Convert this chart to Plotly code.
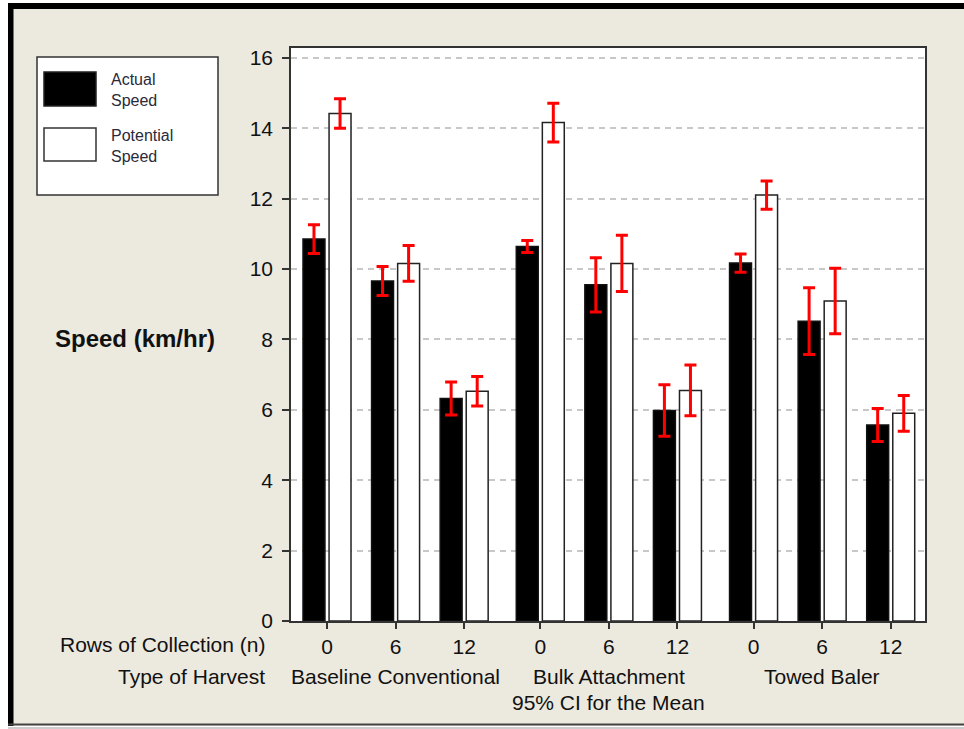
import plotly.graph_objects as go

# ---- data ----
harvest_types = ["Baseline Conventional", "Bulk Attachment", "Towed Baler"]
rows_collection = ["0", "6", "12"]
actual_speed = [10.85, 9.66, 6.32, 10.64, 9.55, 5.98, 10.17, 8.52, 5.57]
actual_ci = [0.41, 0.41, 0.47, 0.17, 0.77, 0.73, 0.26, 0.95, 0.47]
potential_speed = [14.42, 10.16, 6.53, 14.16, 10.16, 6.55, 12.10, 9.09, 5.90]
potential_ci = [0.42, 0.51, 0.42, 0.55, 0.80, 0.72, 0.40, 0.93, 0.51]
y_ticks = [0, 2, 4, 6, 8, 10, 12, 14, 16]

W, H = 964, 729
L, R, T, B = 291, 925, 48, 621  # plot area in pixels

def px(x):
    return (x - L) / (R - L)

def py(y):
    return (B - y) / (B - T)

# x positions: index within group plus a small gap between harvest groups
ticktext = []
xpos = []
for g, _ in enumerate(harvest_types):
    for r, lab in enumerate(rows_collection):
        xpos.append(g * len(rows_collection) + r + 0.11 * g)
        ticktext.append(lab)

BEIGE = "#ECE9DF"
TICKFONT = dict(family="Liberation Sans, Arial, sans-serif", size=21, color="#111111")

fig = go.Figure()
fig.add_trace(go.Bar(
    x=xpos, y=actual_speed, name="Actual Speed",
    offset=-0.35, width=0.32,
    marker=dict(color="black", line=dict(color="#111111", width=1.5)),
    error_y=dict(type="data", array=actual_ci, color="#ff0000", thickness=3, width=6),
))
fig.add_trace(go.Bar(
    x=xpos, y=potential_speed, name="Potential Speed",
    offset=0.03, width=0.32,
    marker=dict(color="white", line=dict(color="#222222", width=1.5)),
    error_y=dict(type="data", array=potential_ci, color="#ff0000", thickness=3, width=6),
))

shapes = []
# white outer margin strips and black frame
shapes.append(dict(type="rect", xref="paper", yref="paper", x0=px(-5), x1=px(8), y0=py(-5), y1=py(H + 5),
                   fillcolor="white", line=dict(width=0), layer="below"))
shapes.append(dict(type="rect", xref="paper", yref="paper", x0=px(-5), x1=px(W + 5), y0=py(-5), y1=py(3),
                   fillcolor="white", line=dict(width=0), layer="below"))
shapes.append(dict(type="rect", xref="paper", yref="paper", x0=px(-5), x1=px(W + 5), y0=py(726), y1=py(H + 5),
                   fillcolor="white", line=dict(width=0), layer="below"))
shapes.append(dict(type="rect", xref="paper", yref="paper", x0=px(8), x1=px(13.5), y0=py(3), y1=py(726),
                   fillcolor="black", line=dict(width=0), layer="below"))
shapes.append(dict(type="rect", xref="paper", yref="paper", x0=px(8), x1=px(W + 5), y0=py(3), y1=py(9),
                   fillcolor="black", line=dict(width=0), layer="below"))
shapes.append(dict(type="line", xref="paper", yref="paper", x0=px(8), x1=px(W + 5), y0=py(724.5), y1=py(724.5),
                   line=dict(color="#444444", width=2), layer="below"))
shapes.append(dict(type="line", xref="paper", yref="paper", x0=px(8), x1=px(W + 5), y0=py(728), y1=py(728),
                   line=dict(color="#999999", width=1), layer="below"))
# legend box
shapes.append(dict(type="rect", xref="paper", yref="paper", x0=px(37), x1=px(218), y0=py(57), y1=py(195),
                   fillcolor="white", line=dict(color="#333333", width=1.5), layer="below"))
shapes.append(dict(type="rect", xref="paper", yref="paper", x0=px(44), x1=px(96), y0=py(72), y1=py(106),
                   fillcolor="black", line=dict(color="#222222", width=1.5), layer="below"))
shapes.append(dict(type="rect", xref="paper", yref="paper", x0=px(44), x1=px(96), y0=py(128), y1=py(161),
                   fillcolor="white", line=dict(color="#333333", width=1.5), layer="below"))

LEGFONT = dict(family="Liberation Sans, Arial, sans-serif", size=16, color="#2a2a3a")
annotations = [
    dict(text="Actual<br>Speed", xref="paper", yref="paper", x=px(109), y=py(90), xanchor="left", yanchor="middle",
         showarrow=False, align="left", font=LEGFONT),
    dict(text="Potential<br>Speed", xref="paper", yref="paper", x=px(109), y=py(146), xanchor="left", yanchor="middle",
         showarrow=False, align="left", font=LEGFONT),
    dict(text="<b>Speed (km/hr)</b>", xref="paper", yref="paper", x=px(53), y=py(338), xanchor="left", yanchor="middle",
         showarrow=False, font=dict(family="Liberation Sans, Arial, sans-serif", size=24, color="#111111")),
    dict(text="Rows of Collection (n)", xref="paper", yref="paper", x=px(267), y=py(644), xanchor="right",
         yanchor="middle", showarrow=False, font=TICKFONT),
    dict(text="Type of Harvest", xref="paper", yref="paper", x=px(267), y=py(676), xanchor="right",
         yanchor="middle", showarrow=False, font=TICKFONT),
]
n = len(rows_collection)
for g, name in enumerate(harvest_types):
    center = sum(xpos[g * n:(g + 1) * n]) / n
    annotations.append(dict(text=name, xref="x", yref="paper", x=center, y=py(676), xanchor="center",
                            yanchor="middle", showarrow=False, font=TICKFONT))
annotations.append(dict(text="95% CI for the Mean", xref="x", yref="paper", x=sum(xpos[n:2 * n]) / n, y=py(702),
                        xanchor="center", yanchor="middle", showarrow=False, font=TICKFONT))

fig.update_layout(
    width=W, height=H,
    margin=dict(l=L, r=W - R, t=T, b=H - B, pad=0),
    paper_bgcolor=BEIGE, plot_bgcolor="white",
    showlegend=False,
    barmode="group",
    shapes=shapes, annotations=annotations,
    xaxis=dict(range=[-0.525, 8.72], tickmode="array", tickvals=xpos, ticktext=ticktext,
               ticks="outside", ticklen=6, tickwidth=1.5, tickcolor="#333333",
               showline=True, linecolor="#333333", linewidth=1.5, mirror=True,
               showgrid=False, zeroline=False, tickfont=TICKFONT),
    yaxis=dict(range=[0, 16.28], tickmode="array", tickvals=y_ticks,
               ticks="outside", ticklen=7, tickwidth=1.5, tickcolor="#333333", ticklabelstandoff=5,
               showline=True, linecolor="#333333", linewidth=1.5, mirror=True,
               showgrid=True, gridcolor="#c8c8c8", gridwidth=1.5, griddash="6px,5px",
               zeroline=False, tickfont=TICKFONT),
)

fig.write_html("out.html", config={"displayModeBar": False},
               post_script="document.body.style.margin='0';")
